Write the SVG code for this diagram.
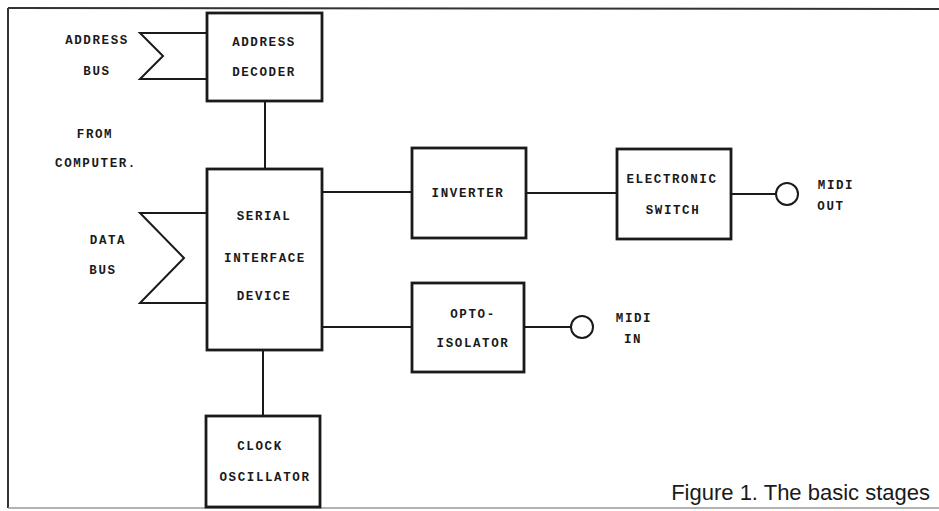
<svg xmlns="http://www.w3.org/2000/svg" width="939" height="511" viewBox="0 0 939 511">
<style>
.box{fill:none;stroke:#1a1a1a;stroke-width:2.8}
.ln{fill:none;stroke:#1a1a1a;stroke-width:2}
.t{font-family:"Liberation Mono","DejaVu Sans Mono",monospace;font-weight:bold;font-size:12.5px;letter-spacing:1.6px;fill:#1a1a1a;text-anchor:middle}
.cap{font-family:"Liberation Sans",Arial,sans-serif;font-size:22px;fill:#1a1a1a;text-anchor:end}
</style>
<rect width="939" height="511" fill="#ffffff"/>
<g id="frame">
<line x1="8" y1="8" x2="939" y2="9" stroke="#333" stroke-width="2"/>
<line x1="8" y1="8" x2="8" y2="508" stroke="#333" stroke-width="2"/>
<line x1="8" y1="508" x2="939" y2="508" stroke="#999" stroke-width="1.5"/>
</g>
<g id="connectors">
<polyline class="ln" points="207,33 140,33 163,56 140,79 207,79"/>
<polyline class="ln" points="207,213 140,213 184,258 140,303 207,303"/>
<line class="ln" x1="265" y1="101" x2="265" y2="169"/>
<line class="ln" x1="263" y1="350" x2="263" y2="416"/>
<line class="ln" x1="322" y1="192" x2="412" y2="192"/>
<line class="ln" x1="526" y1="193" x2="617" y2="193"/>
<line class="ln" x1="322" y1="327" x2="412" y2="327"/>
<line class="ln" x1="524" y1="327" x2="571" y2="327"/>
<line class="ln" x1="731" y1="194" x2="776" y2="194"/>
</g>
<g id="address-bus-label">
<text class="t" x="97" y="44">ADDRESS</text>
<text class="t" x="97" y="75">BUS</text>
</g>
<g id="from-computer-label">
<text class="t" x="95" y="138">FROM</text>
<text class="t" x="96" y="167">COMPUTER.</text>
</g>
<g id="data-bus-label">
<text class="t" x="108" y="244">DATA</text>
<text class="t" x="103" y="274">BUS</text>
</g>
<g id="address-decoder">
<rect class="box" x="207" y="13" width="115" height="88"/>
<text class="t" x="264" y="46">ADDRESS</text>
<text class="t" x="264" y="76">DECODER</text>
</g>
<g id="serial-interface-device">
<rect class="box" x="207" y="169" width="115" height="181"/>
<text class="t" x="264" y="220">SERIAL</text>
<text class="t" x="265" y="262">INTERFACE</text>
<text class="t" x="264" y="300">DEVICE</text>
</g>
<g id="clock-oscillator">
<rect class="box" x="206" y="416" width="114" height="91"/>
<text class="t" x="260" y="450">CLOCK</text>
<text class="t" x="265" y="481">OSCILLATOR</text>
</g>
<g id="inverter">
<rect class="box" x="412" y="148" width="114" height="90"/>
<text class="t" x="468" y="197">INVERTER</text>
</g>
<g id="opto-isolator">
<rect class="box" x="412" y="283" width="112" height="89"/>
<text class="t" x="473" y="318">OPTO-</text>
<text class="t" x="473" y="347">ISOLATOR</text>
</g>
<g id="electronic-switch">
<rect class="box" x="617" y="149" width="114" height="90"/>
<text class="t" x="672" y="183">ELECTRONIC</text>
<text class="t" x="673" y="214">SWITCH</text>
</g>
<g id="midi-out">
<circle class="ln" cx="787" cy="194" r="11"/>
<text class="t" x="836" y="189">MIDI</text>
<text class="t" x="831" y="210">OUT</text>
</g>
<g id="midi-in">
<circle class="ln" cx="582" cy="327" r="11"/>
<text class="t" x="634" y="322">MIDI</text>
<text class="t" x="633" y="343">IN</text>
</g>
<g id="caption">
<text class="cap" x="930" y="500">Figure 1. The basic stages</text>
</g>
</svg>
